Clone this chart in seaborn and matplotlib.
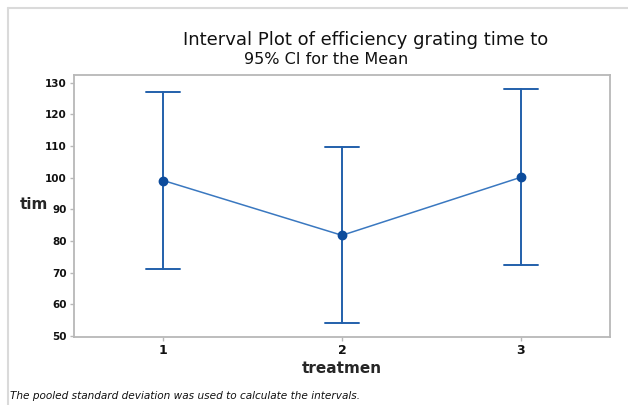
import matplotlib
matplotlib.use("Agg")
import matplotlib.pyplot as plt
from matplotlib.lines import Line2D
import seaborn as sns
import pandas as pd

# Data
treatments = ["1", "2", "3"]
means = [99.1, 81.8, 100.1]
ci_lower = [71.3, 54.0, 72.4]
ci_upper = [127.0, 109.8, 127.9]
yticks = [50, 60, 70, 80, 90, 100, 110, 120, 130]

rows = []
for t, lo, m, hi in zip(treatments, ci_lower, means, ci_upper):
    for v in (lo, m, hi):
        rows.append({"treatmen": t, "tim": v})
df = pd.DataFrame(rows)

sns.set_theme(style="white")
plt.rcParams['font.family'] = ['DejaVu Sans']

fig = plt.figure(figsize=(6.28, 4.05), dpi=100)
ax = fig.add_axes([74/628, 1-336.7/405, (610-74)/628, (336.7-75)/405])

blue = "#2260ab"
sns.pointplot(data=df, x="treatmen", y="tim", order=treatments,
              estimator="median", errorbar=lambda v: (v.min(), v.max()),
              capsize=0.19, color=blue, markers="o", markersize=6,
              linewidth=1.4, err_kws={"linewidth": 1.4}, ax=ax)

# connecting line thinner / lighter, markers darker
main = ax.lines[0]
main.set_linewidth(1.1)
main.set_color("#3a78c0")
main.set_markerfacecolor("#0d4c9c")
main.set_markeredgecolor("#0d4c9c")
main.set_zorder(5)

ax.set_xlim(-0.5, 2.5)
ax.set_ylim(49.8, 132.4)
ax.set_yticks(yticks)
ax.set_yticklabels([str(v) for v in yticks], fontsize=7.5, fontweight="bold")
ax.set_xticks(range(len(treatments)))
ax.set_xticklabels(treatments, fontsize=9, fontweight="bold")

for s in ax.spines.values():
    s.set_color("#b8b8b8")
    s.set_linewidth(1.3)
ax.tick_params(axis="both", which="both", direction="out", length=3,
               width=1, color="#b8b8b8", pad=2, labelcolor="#111111")
ax.tick_params(left=True, bottom=True)

ax.set_xlabel("treatmen", fontsize=11, fontweight="bold", labelpad=3)
ax.set_ylabel("tim", fontsize=11, fontweight="bold", rotation=0,
              labelpad=0, va="center", ha="right")
ax.yaxis.set_label_coords(-0.048, 0.505)

fig.text(366/628, 1-40/405, "Interval Plot of efficiency grating time to",
         fontsize=13, fontweight="medium", ha="center", va="center", color="#111111")
fig.text(326/628, 1-60/405, "95% CI for the Mean",
         fontsize=11.5, fontweight="medium", ha="center", va="center", color="#111111")
fig.text(10/628, 1-396/405,
         "The pooled standard deviation was used to calculate the intervals.",
         fontsize=7.6, style="italic", ha="left", va="center", color="#111111")

# outer frame lines
fig.add_artist(Line2D([8/628, 1], [1-8/405, 1-8/405], transform=fig.transFigure,
                      color="#dadada", linewidth=1.5))
fig.add_artist(Line2D([8/628, 8/628], [0, 1-8/405], transform=fig.transFigure,
                      color="#dadada", linewidth=1.5))

fig.savefig("out.png", dpi=100)
